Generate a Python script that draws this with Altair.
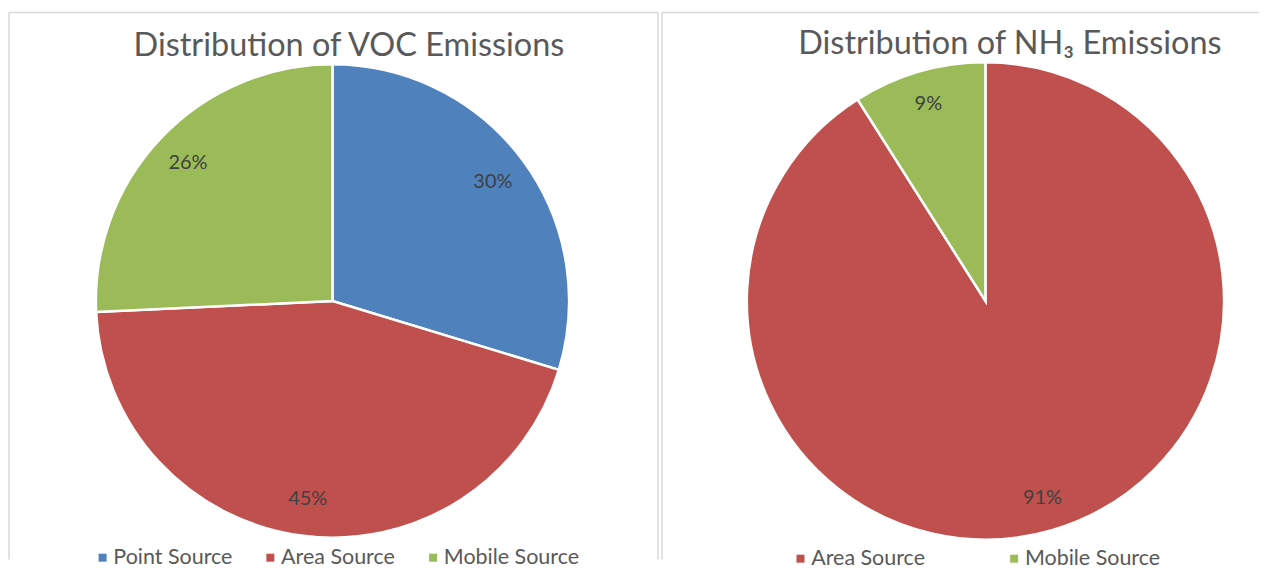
import altair as alt
import pandas as pd

# ---- data ----
voc_sources = ["Point Source", "Area Source", "Mobile Source"]
voc_values = [30, 45, 26]
nh3_sources = ["Area Source", "Mobile Source"]
nh3_values = [91, 9]

voc_title = "Distribution of VOC Emissions"
nh3_title = "Distribution of NH₃ Emissions"

voc_colors = ["#4F81BD", "#C0504D", "#9BBB59"]
nh3_colors = ["#C0504D", "#9BBB59"]

FONT = "Lato"
FRAME = "#D9D9D9"
H = 548


def panel(sources, values, colors, title, width, cx, cy, r, label_r,
          title_dx, title_offset, leg_x, leg_y, col_pad, right_border):
    df = pd.DataFrame({"source": sources, "value": values,
                       "idx": list(range(len(sources)))})
    base = alt.Chart(df).transform_calculate(label="datum.value + '%'")
    color = alt.Color(
        "source:N",
        scale=alt.Scale(domain=sources, range=colors),
        sort=sources,
        legend=alt.Legend(
            title=None, orient="none", legendX=leg_x, legendY=leg_y,
            direction="horizontal", symbolType="square", symbolSize=64,
            symbolStrokeWidth=0, labelFont=FONT, labelFontSize=21.5,
            labelColor="#595959", columnPadding=col_pad, labelOffset=0,
        ),
    )
    arcs = base.mark_arc(radius=r, stroke="white", strokeWidth=2.5).encode(
        theta=alt.Theta("value:Q", stack=True),
        order=alt.Order("idx:Q"),
        color=color,
        x=alt.value(cx), y=alt.value(cy),
    )
    labels = base.mark_text(radius=label_r, font=FONT, fontSize=20,
                            color="#404040").encode(
        theta=alt.Theta("value:Q", stack=True),
        order=alt.Order("idx:Q"),
        text="label:N",
        x=alt.value(cx), y=alt.value(cy),
    )
    one = alt.Data(values=[{"k": 1}])
    top = alt.Chart(one).mark_rule(color=FRAME, strokeWidth=1.5).encode(
        x=alt.value(0), x2=alt.value(width), y=alt.value(0))
    left = alt.Chart(one).mark_rule(color=FRAME, strokeWidth=1.5).encode(
        x=alt.value(0), y=alt.value(0), y2=alt.value(H))
    layers = [top, left]
    if right_border:
        layers.append(alt.Chart(one).mark_rule(color=FRAME, strokeWidth=1.5).encode(
            x=alt.value(width), y=alt.value(0), y2=alt.value(H)))
    layers += [arcs, labels]
    return alt.layer(*layers).properties(
        width=width, height=H,
        title=alt.TitleParams(
            text=title, font=FONT, fontSize=32.5, color="#595959",
            fontWeight="normal", anchor="middle", orient="top",
            offset=title_offset, dx=title_dx, baseline="alphabetic",
        ),
    )


left_panel = panel(voc_sources, voc_values, voc_colors, voc_title, 650,
                   324, 289, 237, 200, 15.5, -77, 83, 535, 27, True)
right_panel = panel(nh3_sources, nh3_values, nh3_colors, nh3_title, 598,
                    324, 289, 239, 205, 49.5, -75, 128, 536, 78, False)

chart = alt.hconcat(left_panel, right_panel, spacing=2).resolve_scale(
    color="independent"
).properties(
    padding={"left": 0, "top": 3, "right": 0, "bottom": 0},
    background="white",
).configure_view(stroke=None)

chart.save("out.html", embed_options={"renderer": "svg", "actions": False})
